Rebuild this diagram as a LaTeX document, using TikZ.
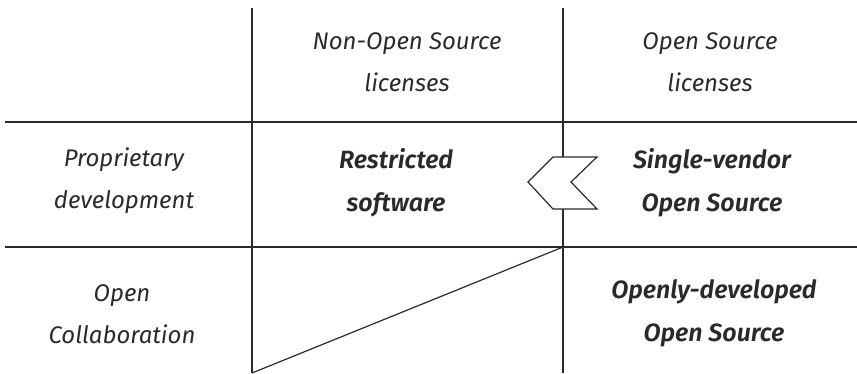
\documentclass[tikz,border=0pt]{standalone}
\usepackage{fontspec}
\setmainfont{Fira Sans}[ItalicFont={Fira Sans Italic},BoldItalicFont={Fira Sans SemiBold Italic}]
\definecolor{ink}{HTML}{2A2A2A}
\begin{document}
\begin{tikzpicture}[x=1pt,y=-1pt,
  grid/.style={draw=ink,line width=1.2pt},
  lbl/.style={align=center,font=\fontsize{24}{42}\selectfont\itshape,text=ink},
  blbl/.style={align=center,font=\fontsize{25}{43}\selectfont\bfseries\itshape,text=ink}]
\useasboundingbox (0,0) rectangle (857,373);
\coordinate (v1t) at (252,8); \coordinate (v1b) at (252,373);
\coordinate (v2t) at (563,8); \coordinate (v2b) at (563,373);
\coordinate (h1l) at (5,122); \coordinate (h1r) at (857,122);
\coordinate (h2l) at (5,247); \coordinate (h2r) at (857,247);
\coordinate (corner) at (563,247); \coordinate (bl) at (252,373);
\draw[grid] (v1t) -- (v1b);
\draw[grid] (v2t) -- (v2b);
\draw[grid] (h1l) -- (h1r);
\draw[grid] (h2l) -- (h2r);
\draw[grid] (corner) -- (bl);
\filldraw[grid,fill=white] (553,157) -- (597,157) -- (571,182) -- (597,209) -- (553,209) -- (528,182) -- cycle;
\node[lbl] (c1) at (407,62) {Non-Open Source\\licenses};
\node[lbl] (c2) at (710,62) {Open Source\\licenses};
\node[lbl] (r1) at (124,181) {Proprietary\\development};
\node[lbl] (r2) at (122,314) {Open\\Collaboration};
\node[blbl] (a) at (396,183) {Restricted\\software};
\node[blbl] (b) at (712,183) {Single-vendor\\Open Source};
\node[blbl] (c) at (714,313) {Openly-developed\\Open Source};
\end{tikzpicture}
\end{document}
